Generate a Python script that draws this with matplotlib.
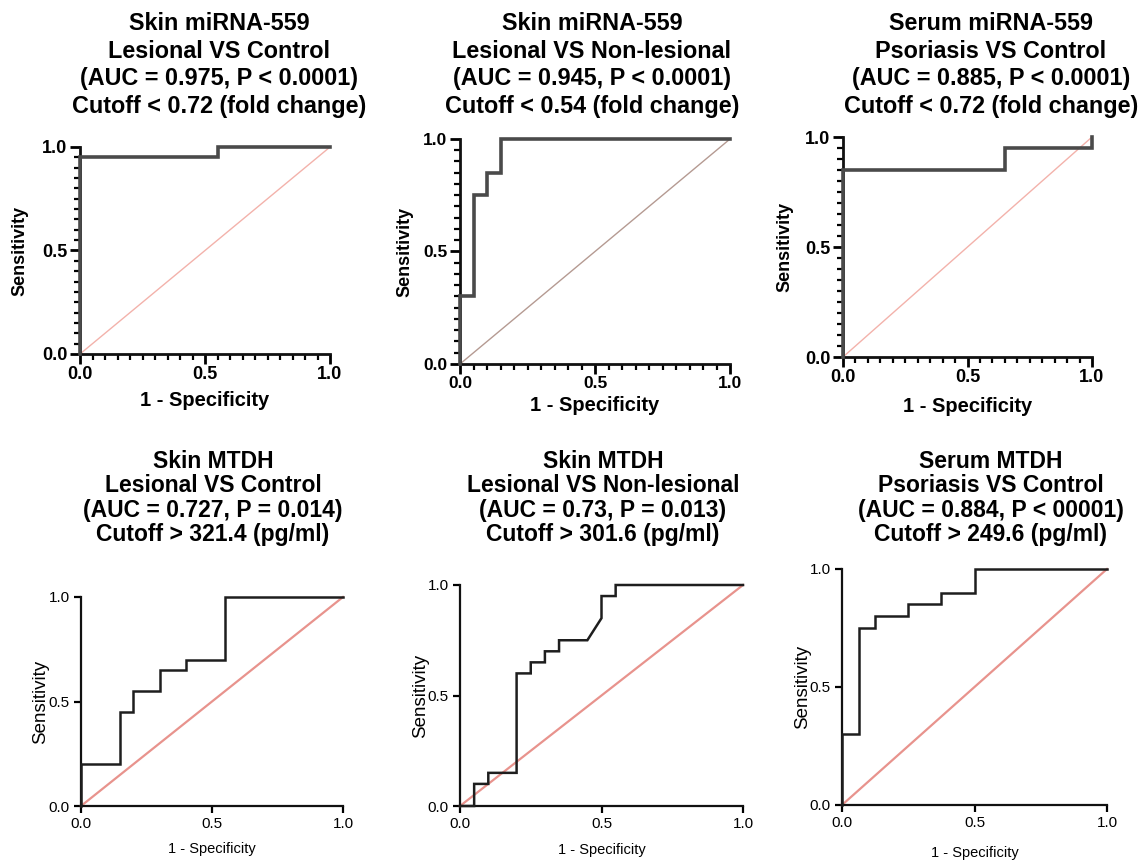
import matplotlib
matplotlib.use("Agg")
import matplotlib.pyplot as plt
from matplotlib.ticker import MultipleLocator

plt.rcParams['font.family'] = ['Liberation Sans', 'DejaVu Sans']

W, H = 1143, 860

# ---- data (1 - specificity, sensitivity) ----
fpr_skin_mir_ctrl = [0, 0, 0.55, 0.55, 1.0]
tpr_skin_mir_ctrl = [0, 0.95, 0.95, 1.0, 1.0]

fpr_skin_mir_nonles = [0, 0, 0.05, 0.05, 0.10, 0.10, 0.15, 0.15, 1.0]
tpr_skin_mir_nonles = [0, 0.30, 0.30, 0.75, 0.75, 0.85, 0.85, 1.0, 1.0]

fpr_serum_mir = [0, 0, 0.65, 0.65, 1.0, 1.0]
tpr_serum_mir = [0, 0.85, 0.85, 0.95, 0.95, 1.0]

fpr_skin_mtdh_ctrl = [0, 0, 0.15, 0.15, 0.20, 0.20, 0.30, 0.30, 0.40, 0.40, 0.55, 0.55, 1.0]
tpr_skin_mtdh_ctrl = [0, 0.20, 0.20, 0.45, 0.45, 0.55, 0.55, 0.65, 0.65, 0.70, 0.70, 1.0, 1.0]

fpr_skin_mtdh_nonles = [0, 0.05, 0.05, 0.10, 0.10, 0.20, 0.20, 0.25, 0.25, 0.30, 0.30, 0.35, 0.35,
                        0.45, 0.50, 0.50, 0.55, 0.55, 1.0]
tpr_skin_mtdh_nonles = [0, 0, 0.10, 0.10, 0.15, 0.15, 0.60, 0.60, 0.65, 0.65, 0.70, 0.70, 0.75,
                        0.75, 0.85, 0.95, 0.95, 1.0, 1.0]

fpr_serum_mtdh = [0, 0, 0.0625, 0.0625, 0.125, 0.125, 0.25, 0.25, 0.375, 0.375, 0.5, 0.5, 1.0]
tpr_serum_mtdh = [0, 0.30, 0.30, 0.75, 0.75, 0.80, 0.80, 0.85, 0.85, 0.90, 0.90, 1.0, 1.0]

titles = [
    ["Skin miRNA-559", "Lesional VS Control", "(AUC = 0.975, P < 0.0001)", "Cutoff < 0.72 (fold change)"],
    ["Skin miRNA-559", "Lesional VS Non-lesional", "(AUC = 0.945, P < 0.0001)", "Cutoff < 0.54 (fold change)"],
    ["Serum miRNA-559", "Psoriasis VS Control", "(AUC = 0.885, P < 0.0001)", "Cutoff < 0.72 (fold change)"],
    ["Skin MTDH", "Lesional VS Control", "(AUC = 0.727, P = 0.014)", "Cutoff > 321.4 (pg/ml)"],
    ["Skin MTDH", "Lesional VS Non-lesional", "(AUC = 0.73, P = 0.013)", "Cutoff > 301.6 (pg/ml)"],
    ["Serum MTDH", "Psoriasis VS Control", "(AUC = 0.884, P < 00001)", "Cutoff > 249.6 (pg/ml)"],
]
curves = [
    (fpr_skin_mir_ctrl, tpr_skin_mir_ctrl),
    (fpr_skin_mir_nonles, tpr_skin_mir_nonles),
    (fpr_serum_mir, tpr_serum_mir),
    (fpr_skin_mtdh_ctrl, tpr_skin_mtdh_ctrl),
    (fpr_skin_mtdh_nonles, tpr_skin_mtdh_nonles),
    (fpr_serum_mtdh, tpr_serum_mtdh),
]
tick_vals = [0, 0.5, 1.0]
tick_labels = ["0.0", "0.5", "1.0"]

# ---- layout in pixels: left, right, top, bottom of each plot area ----
boxes = [(80, 330, 147, 354), (460, 730, 139, 364), (843, 1092, 137, 357),
         (81, 343, 597, 806), (460, 743, 585, 806), (842, 1107, 569, 805)]
title_x = [219, 592, 991, 213, 603, 991]
# (ylabel offset px, xlabel offset px)
label_off = [(60, 47), (55, 42), (58, 50), (40, 43), (39, 44), (39, 48)]
curve_col = ['#4a4a4a', '#4a4a4a', '#4a4a4a', '#1e1e1e', '#1e1e1e', '#1e1e1e']
diag_col = ['#f3b2ab', '#b59a92', '#f3b2ab', '#e8938d', '#e8938d', '#e8938d']

fig = plt.figure(figsize=(W / 100, H / 100), dpi=100)

for i in range(6):
    l, r, t, b = boxes[i]
    top_row = i < 3
    ax = fig.add_axes([l / W, 1 - b / H, (r - l) / W, (b - t) / H])
    fpr, tpr = curves[i]
    ax.plot([0, 1], [0, 1], color=diag_col[i], lw=1.0 if top_row else 1.6, clip_on=False, zorder=2)
    ax.plot(fpr, tpr, color=curve_col[i], lw=2.6 if top_row else 1.8, clip_on=False, zorder=3,
            solid_joinstyle='miter')
    ax.set_xlim(0, 1)
    ax.set_ylim(0, 1)
    for s in ['top', 'right']:
        ax.spines[s].set_visible(False)
    weight = 'bold' if top_row else 'normal'
    for s in ['left', 'bottom']:
        ax.spines[s].set_linewidth(2.0 if top_row else 1.6)
        ax.spines[s].set_color('#111111')
    ax.set_xticks(tick_vals)
    ax.set_yticks(tick_vals)
    tfs = 13 if top_row else 11
    if i == 1:
        tfs = 12.5
    ax.set_xticklabels(tick_labels, fontsize=tfs, fontweight=weight)
    ax.set_yticklabels(tick_labels, fontsize=tfs, fontweight=weight)
    if top_row:
        ax.xaxis.set_minor_locator(MultipleLocator(0.05))
        ax.yaxis.set_minor_locator(MultipleLocator(0.05))
        ax.tick_params(which='major', direction='out', length=7, width=2.0, pad=2)
        ax.tick_params(which='minor', direction='out', length=4, width=1.6)
    else:
        ax.tick_params(which='major', direction='out', length=5, width=1.6, pad=3)
    ax.set_xlabel("1 - Specificity", fontsize=14.5 if top_row else 10.5, fontweight=weight)
    ax.set_ylabel("Sensitivity", fontsize=13 if top_row else 13.5, fontweight=weight)
    dy, dx = label_off[i]
    ax.yaxis.set_label_coords(-dy / (r - l), 0.5)
    ax.xaxis.set_label_coords(0.5, -dx / (b - t))
    ax.xaxis.label.set_va('center')
    ax.yaxis.label.set_va('center')

    y0, step = (23, 28) if top_row else (461, 24.5)
    for k, line in enumerate(titles[i]):
        fig.text(title_x[i] / W, 1 - (y0 + step * k) / H, line, ha='center', va='center',
                 fontsize=16.8 if top_row else 16.5, fontweight='bold')

fig.savefig("out.png", dpi=100)
